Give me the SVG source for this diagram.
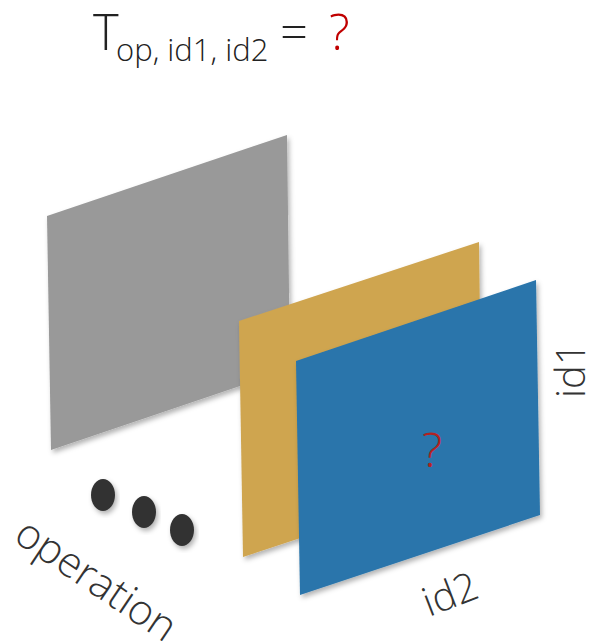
<svg xmlns="http://www.w3.org/2000/svg" width="592" height="641" viewBox="0 0 592 641">
<defs>
<filter id="sh" x="-10%" y="-10%" width="130%" height="130%">
<feDropShadow dx="2" dy="3" stdDeviation="2.5" flood-color="#000" flood-opacity="0.3"/>
</filter>
<style>
.lbl{font-family:"Open Sans","Liberation Sans",sans-serif;font-weight:300;fill:#333}
.q{font-family:"Open Sans","Liberation Sans",sans-serif;font-weight:300;fill:#c00000}
.dot{fill:#333;filter:url(#sh)}
</style>
</defs>
<rect width="592" height="641" fill="#fff"/>
<g id="title">
<text class="lbl" x="93" y="50" font-size="49" style="fill:#222">T</text>
<text class="lbl" x="116" y="61" font-size="31" style="fill:#222">op, id1, id2</text>
<text class="lbl" x="280" y="50" font-size="49" style="fill:#222">=</text>
<text class="q" x="329" y="50" font-size="49">?</text>
</g>
<g id="operation-plane">
<polygon points="47,216 287,135 290,369 51,450" fill="#999999" filter="url(#sh)"/>
</g>
<g id="id1-plane">
<polygon points="239,321 479,242 482,478 243,557" fill="#cfa550" filter="url(#sh)"/>
</g>
<g id="id2-plane">
<polygon points="296,361 536,280 540,515 300,595" fill="#2a75ab" filter="url(#sh)"/>
<text class="q" x="432" y="467" font-size="48" text-anchor="middle" style="fill:#b22222">?</text>
</g>
<g id="dots">
<ellipse class="dot" cx="103" cy="495" rx="12" ry="16"/>
<ellipse class="dot" cx="144" cy="512" rx="12" ry="16"/>
<ellipse class="dot" cx="182" cy="530" rx="12" ry="16"/>
</g>
<g id="labels">
<text class="lbl" font-size="42" transform="translate(12,540) rotate(34)">operation</text>
<text class="lbl" font-size="40" transform="translate(585,398) rotate(-90)">id1</text>
<text class="lbl" font-size="40" transform="translate(429,617) rotate(-21)">id2</text>
</g>
</svg>
